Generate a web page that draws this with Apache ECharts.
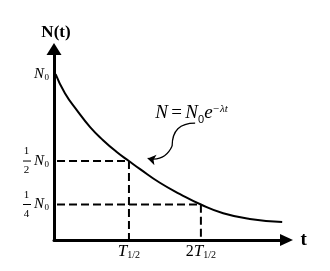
<!DOCTYPE html>
<html><head><meta charset="utf-8">
<script src="https://cdn.jsdelivr.net/npm/echarts@6/dist/echarts.min.js"></script>
<style>html,body{margin:0;padding:0;background:#fff}#c{width:330px;height:271px}</style>
</head><body><div id="c"></div>
<script>
// Decay curve N(t), t in units of T1/2, N in units of N0
const curveT = [-0.02, 0.11, 0.28, 0.46, 0.64, 0.83, 1.0, 1.15, 1.43, 1.71, 2.0, 2.31, 2.68, 3.13];
const curveN = [1.0, 0.89, 0.79, 0.695, 0.62, 0.552, 0.5, 0.455, 0.375, 0.31, 0.25, 0.20, 0.167, 0.149];
// guide levels
const guideT = [1, 2];
const guideN = [0.5, 0.25];
// tick labels
const yTickValues = [0.25, 0.5, 1];
const yTickNum = ['1', '1', null];
const yTickDen = ['4', '2', null];
const xTickValues = [1, 2];
const xTickPrefix = ['', '2'];
// annotation
const formulaPos = [1.87, 0.776];
const arrowPath = [[1.92, 0.718], [1.60, 0.586], [1.26, 0.515]];

const xMin = -0.042, xMax = 3.19, yMin = 0.046, yMax = 1.144;
const serif = 'Liberation Serif';

const N0rich = {
  N: {fontFamily: serif, fontStyle: 'italic', fontSize: 15, color: '#000', width: 10, lineHeight: 10},
  s: {fontFamily: serif, fontSize: 9, color: '#000', width: 5, verticalAlign: 'bottom', padding: [0,0,-3,0]},
  num: {fontFamily: serif, fontSize: 11, color: '#000', width: 9, align: 'center', lineHeight: 9},
  den: {fontFamily: serif, fontSize: 11, color: '#000', width: 9, align: 'center', lineHeight: 9},
  pad: {width: 18, fontSize: 9},
  sp: {width: 3, fontSize: 9},
  bar: {width: 8, height: 1, backgroundColor: '#000', fontSize: 1}
};

const chart = echarts.init(document.getElementById('c'));
chart.setOption({
  animation: false,
  backgroundColor: '#fff',
  grid: {left: 54, right: 43.5, top: 49, bottom: 31},
  xAxis: {
    type: 'value', min: xMin, max: xMax,
    name: 't', nameLocation: 'end', nameGap: 14,
    nameTextStyle: {fontFamily: serif, fontWeight: 'bold', fontSize: 19, color: '#000', verticalAlign: 'middle', padding: [0,0,3,0]},
    axisLine: {show: true, onZero: false, symbol: ['none', 'triangle'], symbolSize: [12, 13], lineStyle: {color: '#000', width: 3}},
    axisTick: {show: false},
    splitLine: {show: false},
    axisLabel: {
      customValues: xTickValues, margin: 3,
      formatter: function (v) {
        const i = xTickValues.indexOf(v);
        return (xTickPrefix[i] ? '{n|' + xTickPrefix[i] + '}' : '') + '{T|T}{s|1/2}';
      },
      rich: {
        n: {fontFamily: serif, fontSize: 16, color: '#000'},
        T: {fontFamily: serif, fontStyle: 'italic', fontSize: 17, color: '#000'},
        s: {fontFamily: serif, fontSize: 10, color: '#000', verticalAlign: 'bottom'}
      }
    }
  },
  yAxis: {
    type: 'value', min: yMin, max: yMax,
    name: 'N(t)', nameLocation: 'end', nameGap: 8,
    nameTextStyle: {fontFamily: serif, fontWeight: 'bold', fontSize: 17, color: '#000', padding: [0,0,0,4]},
    axisLine: {show: true, onZero: false, symbol: ['none', 'triangle'], symbolSize: [15, 12], lineStyle: {color: '#000', width: 3}},
    axisTick: {show: false},
    splitLine: {show: false},
    axisLabel: {
      customValues: yTickValues, margin: 5,
      formatter: function (v) {
        const i = yTickValues.indexOf(v);
        if (yTickNum[i] == null) return '{N|N}{s|0}';
        return '{num|' + yTickNum[i] + '}{pad| }\n{bar| }{sp| }{N|N}{s|0}\n{den|' + yTickDen[i] + '}{pad| }';
      },
      rich: N0rich
    }
  },
  series: [
    {
      type: 'line', smooth: 0.5, symbol: 'none',
      data: curveT.map((t, i) => [t, curveN[i]]),
      lineStyle: {color: '#000', width: 2}
    },
    {
      type: 'line', symbol: 'none',
      data: [[0, guideN[0]], [guideT[0], guideN[0]], [guideT[0], yMin]],
      lineStyle: {color: '#000', width: 2, type: [8, 4]}
    },
    {
      type: 'line', symbol: 'none',
      data: [[0, guideN[1]], [guideT[1], guideN[1]], [guideT[1], yMin]],
      lineStyle: {color: '#000', width: 2, type: [8, 4]}
    },
    {
      type: 'lines', coordinateSystem: 'cartesian2d', symbol: ['none', 'none'],
      lineStyle: {color: '#000', width: 1.3, opacity: 1, curveness: -0.5},
      data: [{coords: [arrowPath[0], arrowPath[1]]}]
    },
    {
      type: 'lines', coordinateSystem: 'cartesian2d', symbol: ['none', 'arrow'], symbolSize: 8,
      lineStyle: {color: '#000', width: 1.3, opacity: 1, curveness: 0.4},
      data: [{coords: [arrowPath[1], arrowPath[2]]}]
    },
    {
      type: 'scatter', symbolSize: 0,
      itemStyle: {opacity: 1, color: '#000'},
      data: [formulaPos],
      label: {
        show: true, position: 'inside', color: '#000', opacity: 1,
        formatter: '{i|N} {r|=} {i|N}{sub|0}{i|e}{sup|−λt}',
        rich: {
          i: {fontFamily: serif, fontStyle: 'italic', fontSize: 19, color: '#000'},
          r: {fontFamily: serif, fontSize: 19, color: '#000'},
          sub: {fontFamily: 'Liberation Sans', fontSize: 11, color: '#000', verticalAlign: 'bottom', padding: [0,0,-3,0]},
          sup: {fontFamily: serif, fontStyle: 'italic', fontSize: 11, color: '#000', verticalAlign: 'top', padding: [0,0,6,0]}
        }
      }
    }
  ]
});
</script></body></html>
